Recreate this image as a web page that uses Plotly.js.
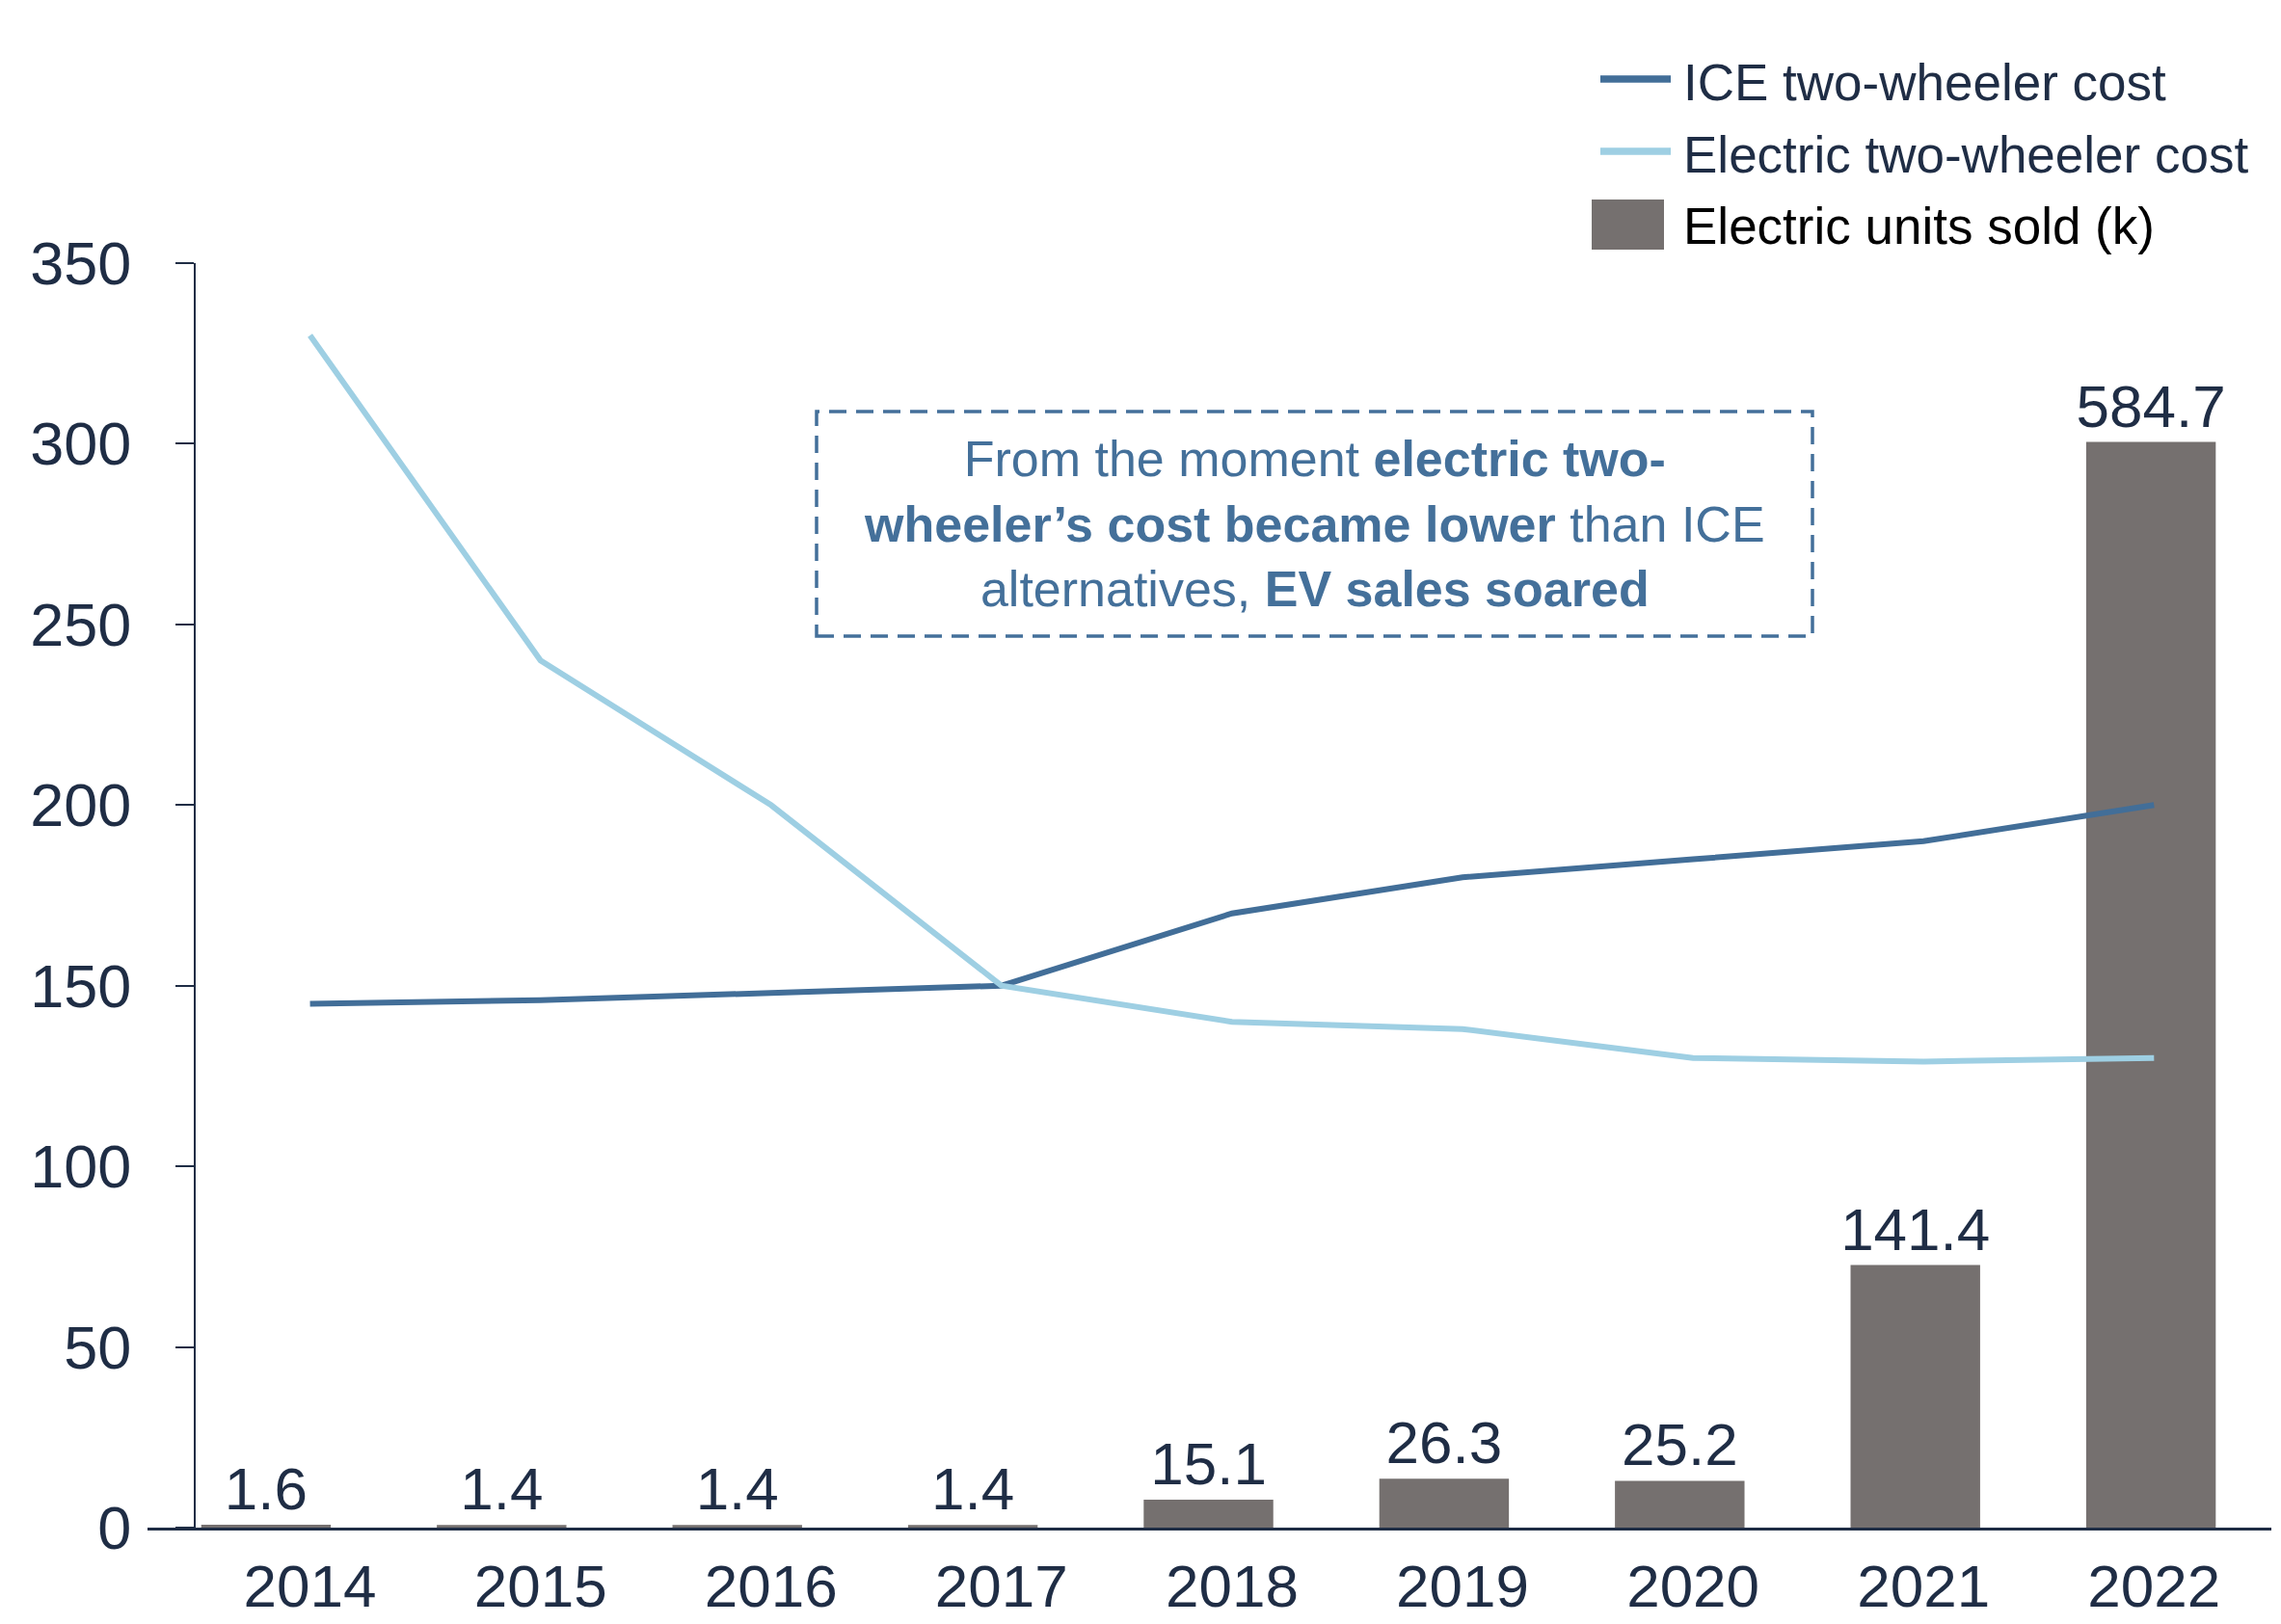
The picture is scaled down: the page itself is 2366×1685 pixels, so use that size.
<!DOCTYPE html>
<html>
<head>
<meta charset="utf-8">
<script src="https://cdn.plot.ly/plotly-3.0.1.min.js"></script>
<style>
  html, body { margin: 0; padding: 0; background: #ffffff; }
  #chart { width: 2366px; height: 1685px; }
</style>
</head>
<body>
<div id="chart"></div>
<script>
// ---------------- DATA ----------------
const years = ['2014', '2015', '2016', '2017', '2018', '2019', '2020', '2021', '2022'];
const iceCost = [145, 146, 148, 150, 170, 180, 185, 190, 200];
const evCost = [330, 240, 200, 150, 140, 138, 130, 129, 130];
const evUnitsSold = [1.6, 1.4, 1.4, 1.4, 15.1, 26.3, 25.2, 141.4, 584.7];
const costTicks = [0, 50, 100, 150, 200, 250, 300, 350];
const seriesNames = ['ICE two-wheeler cost', 'Electric two-wheeler cost', 'Electric units sold (k)'];
const crossoverYear = '2017';
const crossoverMarkerValue = 165;
const noteText = 'From the moment <b>electric two-</b><br><b>wheeler\u2019s cost became lower</b> than ICE<br>alternatives, <b>EV sales soared</b>';

// ---------------- STYLE ----------------
const FONT = 'Liberation Sans, Arial, Helvetica, sans-serif';
const NAVY = '#1f2d45';
const ICE_COLOR = '#426e98';
const EV_COLOR = '#9ecfe3';
const BAR_COLOR = '#75706f';
const NOTE_COLOR = '#44709a';

const unitLabels = evUnitsSold.map(v => v.toFixed(1));

const traces = [
  {
    type: 'bar',
    name: seriesNames[2],
    x: years,
    y: evUnitsSold,
    xaxis: 'x',
    yaxis: 'y',
    width: 0.55,
    marker: { color: BAR_COLOR, line: { width: 0 } },
    text: unitLabels,
    textposition: 'outside',
    constraintext: 'none',
    cliponaxis: false,
    textfont: { family: FONT, size: 62, color: NAVY },
    hoverinfo: 'skip',
    showlegend: false
  },
  {
    type: 'scatter',
    mode: 'lines',
    name: seriesNames[0],
    x: years,
    y: iceCost,
    xaxis: 'x2',
    yaxis: 'y2',
    line: { color: ICE_COLOR, width: 6 },
    showlegend: false
  },
  {
    type: 'scatter',
    mode: 'lines',
    name: seriesNames[1],
    x: years,
    y: evCost,
    xaxis: 'x2',
    yaxis: 'y2',
    line: { color: EV_COLOR, width: 6 },
    showlegend: false
  }
];

// plot area in pixels: x 153..2356, y 273..1585
const L = 153, R = 2356, T = 273, B = 1585;
const px = v => (v - L) / (R - L);
const py = v => (B - v) / (B - T);

const boxX0 = px(847), boxX1 = px(1880), boxY0 = py(660), boxY1 = py(427);
const boxBottomValue = boxY0 * 350;

const legendText = [py(86), py(161), py(235)];
const legendSym = [py(82), py(157)];

const shapes = [
  // annotation box
  { type: 'rect', xref: 'paper', yref: 'paper', x0: boxX0, x1: boxX1, y0: boxY0, y1: boxY1,
    line: { color: NOTE_COLOR, width: 3.5, dash: '18px,10px' }, fillcolor: 'rgba(0,0,0,0)' },
  // connector
  { type: 'line', xref: 'x2', yref: 'y2', x0: crossoverYear, x1: crossoverYear,
    y0: crossoverMarkerValue, y1: boxBottomValue,
    line: { color: NOTE_COLOR, width: 3.5, dash: '18px,10px' } },
  // dot
  { type: 'circle', xref: 'x2', yref: 'y2', xsizemode: 'pixel', ysizemode: 'pixel',
    xanchor: crossoverYear, yanchor: crossoverMarkerValue, x0: -6, x1: 6, y0: -6, y1: 6,
    fillcolor: NOTE_COLOR, line: { width: 0 } },
  // legend symbols
  { type: 'line', xref: 'paper', yref: 'paper', x0: px(1660), x1: px(1733), y0: legendSym[0], y1: legendSym[0],
    line: { color: ICE_COLOR, width: 7.5 } },
  { type: 'line', xref: 'paper', yref: 'paper', x0: px(1660), x1: px(1733), y0: legendSym[1], y1: legendSym[1],
    line: { color: EV_COLOR, width: 7.5 } },
  { type: 'rect', xref: 'paper', yref: 'paper', x0: px(1651), x1: px(1726), y0: py(259), y1: py(207),
    fillcolor: BAR_COLOR, line: { width: 0 } }
];

const annotations = [
  { xref: 'paper', yref: 'paper', x: (boxX0 + boxX1) / 2, y: (boxY0 + boxY1) / 2,
    xanchor: 'center', yanchor: 'middle', align: 'center', showarrow: false,
    text: noteText, font: { family: FONT, size: 52, color: NOTE_COLOR } },
  { xref: 'paper', yref: 'paper', x: px(1744), y: legendText[0], xanchor: 'left', yanchor: 'middle',
    showarrow: false, text: seriesNames[0], font: { family: FONT, size: 53, color: NAVY } },
  { xref: 'paper', yref: 'paper', x: px(1744), y: legendText[1], xanchor: 'left', yanchor: 'middle',
    showarrow: false, text: seriesNames[1], font: { family: FONT, size: 53, color: NAVY } },
  { xref: 'paper', yref: 'paper', x: px(1744), y: legendText[2], xanchor: 'left', yanchor: 'middle',
    showarrow: false, text: seriesNames[2], font: { family: FONT, size: 53, color: '#000000' } }
];

const layout = {
  width: 2366,
  height: 1685,
  margin: { l: L, r: 2366 - R, t: T, b: 1685 - B, pad: 0 },
  paper_bgcolor: '#ffffff',
  plot_bgcolor: '#ffffff',
  font: { family: FONT, color: NAVY },
  showlegend: false,
  xaxis: {
    type: 'category',
    range: [-0.503, 8.511],
    showline: true, linecolor: NAVY, linewidth: 2.5,
    showticklabels: false, ticks: '', showgrid: false, zeroline: false, fixedrange: true
  },
  yaxis: {
    range: [0, 681],
    visible: false, fixedrange: true
  },
  xaxis2: {
    type: 'category',
    overlaying: 'x',
    anchor: 'y',
    side: 'bottom',
    range: [-0.705, 8.509],
    showline: false, showgrid: false, zeroline: false, ticks: '',
    tickfont: { family: FONT, size: 62, color: NAVY },
    ticklabelstandoff: 19,
    fixedrange: true
  },
  yaxis2: {
    overlaying: 'y',
    side: 'left',
    anchor: 'free',
    position: px(202),
    range: [0, 350],
    tickmode: 'array',
    tickvals: costTicks,
    ticktext: costTicks.map(String),
    showline: true, linecolor: NAVY, linewidth: 2,
    ticks: 'outside', ticklen: 19, tickwidth: 2, tickcolor: NAVY,
    tickfont: { family: FONT, size: 63, color: NAVY },
    ticklabelstandoff: 33,
    showgrid: false, zeroline: false, fixedrange: true
  },
  shapes: shapes,
  annotations: annotations
};

Plotly.newPlot('chart', traces, layout, { staticPlot: true, displayModeBar: false });
</script>
</body>
</html>
